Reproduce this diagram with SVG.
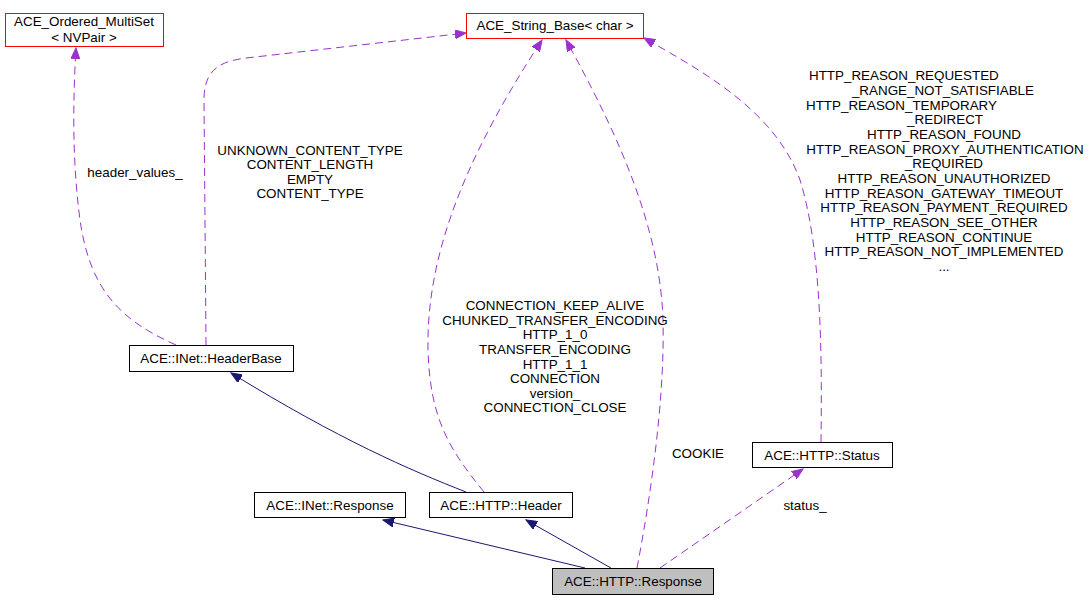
<svg xmlns="http://www.w3.org/2000/svg" width="1090" height="600" viewBox="0 0 1090 600">
<style>
text{font-family:"Liberation Sans",Arial,sans-serif;font-size:13.4px;fill:#000}
.c{text-anchor:middle}
.s{text-anchor:start}
.e{text-anchor:end}
.box{fill:#fff;stroke:#000;stroke-width:1}
.red{fill:#fff;stroke:#ff0000;stroke-width:1}
.cur{fill:#bfbfbf;stroke:#000;stroke-width:1}
.inh{fill:none;stroke:#191970;stroke-width:1}
.use{fill:none;stroke:#9a32cd;stroke-width:1;stroke-dasharray:8,5}
</style>
<defs>
<marker id="an" markerUnits="userSpaceOnUse" markerWidth="12" markerHeight="9" refX="11" refY="4.5" orient="auto"><polygon points="0,0 11,4.5 0,9" fill="#191970" stroke="#191970"/></marker>
<marker id="ap" markerUnits="userSpaceOnUse" markerWidth="12" markerHeight="9" refX="11" refY="4.5" orient="auto"><polygon points="0,0 11,4.5 0,9" fill="#9a32cd" stroke="#9a32cd"/></marker>
</defs>
<rect width="1090" height="600" fill="#fff"/>
<g id="connectors">
<path class="inh" marker-end="url(#an)" d="M466,492 C410,470 340,440 231,373"/>
<path class="inh" marker-end="url(#an)" d="M585,568 L383,520"/>
<path class="inh" marker-end="url(#an)" d="M611,568 L526,520"/>
<path class="use" marker-end="url(#ap)" d="M176,345 C120,320 90,290 80,220 C72,160 73,100 76,48"/>
<path class="use" marker-end="url(#ap)" d="M206,345 L204,100 C204,65 225,60 255,57 L466,33"/>
<path class="use" marker-end="url(#ap)" d="M484,492 C450,450 430,420 428,350 C426,250 470,150 542,40"/>
<path class="use" marker-end="url(#ap)" d="M637,568 C650,500 665,400 663,320 C660,220 610,120 566,40"/>
<path class="use" marker-end="url(#ap)" d="M821,442 C822,360 822,250 800,180 C775,110 700,70 644,38"/>
<path class="use" marker-end="url(#ap)" d="M660,568 L803,469"/>
<text class="c" x="135" y="177">header_values_</text>
<text class="c" x="310" y="155">UNKNOWN_CONTENT_TYPE</text>
<text class="c" x="310" y="169">CONTENT_LENGTH</text>
<text class="c" x="310" y="184">EMPTY</text>
<text class="c" x="310" y="198">CONTENT_TYPE</text>
<text class="c" x="555" y="310">CONNECTION_KEEP_ALIVE</text>
<text class="c" x="555" y="325">CHUNKED_TRANSFER_ENCODING</text>
<text class="c" x="555" y="339">HTTP_1_0</text>
<text class="c" x="555" y="354">TRANSFER_ENCODING</text>
<text class="c" x="555" y="369">HTTP_1_1</text>
<text class="c" x="555" y="383">CONNECTION</text>
<text class="c" x="555" y="398">version_</text>
<text class="c" x="555" y="412">CONNECTION_CLOSE</text>
<text class="c" x="698" y="458">COOKIE</text>
<text class="c" x="805" y="510">status_</text>
<text class="s" x="809" y="80">HTTP_REASON_REQUESTED</text>
<text class="e" x="1034" y="95">_RANGE_NOT_SATISFIABLE</text>
<text class="s" x="806" y="110">HTTP_REASON_TEMPORARY</text>
<text class="e" x="983" y="124">_REDIRECT</text>
<text class="c" x="944" y="139">HTTP_REASON_FOUND</text>
<text class="c" x="945" y="154">HTTP_REASON_PROXY_AUTHENTICATION</text>
<text class="e" x="983" y="168">_REQUIRED</text>
<text class="c" x="944" y="183">HTTP_REASON_UNAUTHORIZED</text>
<text class="c" x="944" y="198">HTTP_REASON_GATEWAY_TIMEOUT</text>
<text class="c" x="944" y="212">HTTP_REASON_PAYMENT_REQUIRED</text>
<text class="c" x="944" y="227">HTTP_REASON_SEE_OTHER</text>
<text class="c" x="944" y="242">HTTP_REASON_CONTINUE</text>
<text class="c" x="944" y="256">HTTP_REASON_NOT_IMPLEMENTED</text>
<text class="c" x="944" y="271">...</text>
</g>
<g id="ordered_multiset">
<rect class="red" x="5.5" y="13.5" width="158" height="33"/>
<text class="c" x="84" y="26">ACE_Ordered_MultiSet</text>
<text class="c" x="84" y="42">&lt; NVPair &gt;</text>
</g>
<g id="string_base">
<rect class="red" x="466.5" y="13.5" width="177" height="25"/>
<text class="c" x="555" y="30">ACE_String_Base&lt; char &gt;</text>
</g>
<g id="headerbase">
<rect class="box" x="129.5" y="345.5" width="164" height="26"/>
<text class="c" x="211" y="363">ACE::INet::HeaderBase</text>
</g>
<g id="inet_response">
<rect class="box" x="254.5" y="492.5" width="151" height="25"/>
<text class="c" x="330" y="510">ACE::INet::Response</text>
</g>
<g id="http_header">
<rect class="box" x="429.5" y="492.5" width="143" height="25"/>
<text class="c" x="501" y="510">ACE::HTTP::Header</text>
</g>
<g id="http_status">
<rect class="box" x="752.5" y="442.5" width="140" height="25"/>
<text class="c" x="822" y="460">ACE::HTTP::Status</text>
</g>
<g id="http_response">
<rect class="cur" x="552.5" y="568.5" width="161" height="26"/>
<text class="c" x="633" y="586">ACE::HTTP::Response</text>
</g>
</svg>
